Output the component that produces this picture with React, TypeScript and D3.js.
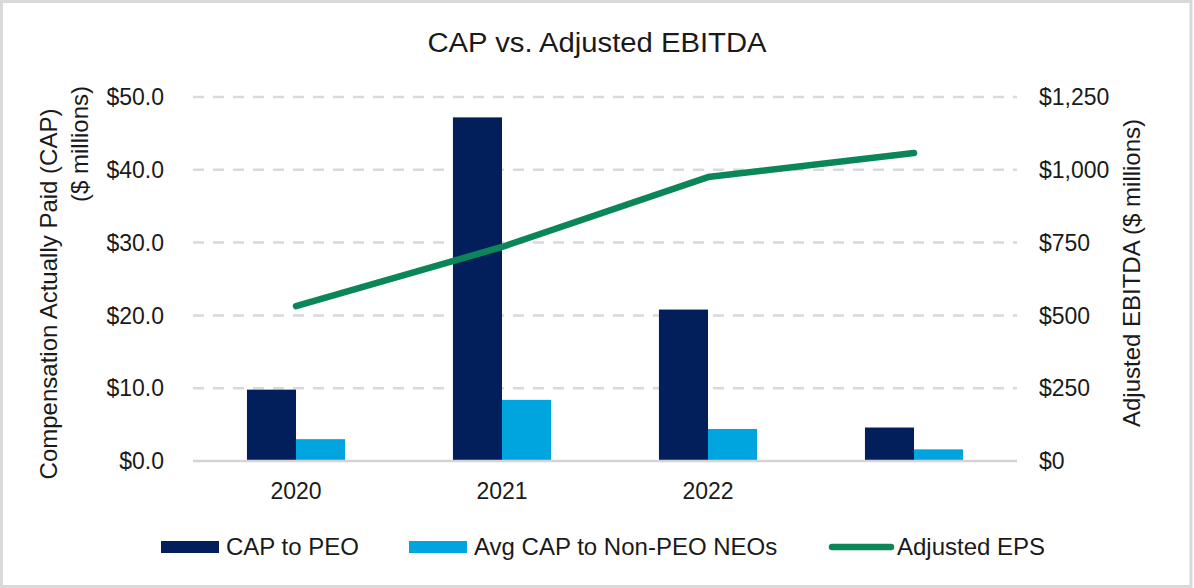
import * as d3 from 'd3';

const WIDTH = 1194;
const HEIGHT = 588;
const MARGIN = { top: 97, right: 177, bottom: 127, left: 193 };

// data
const years = ['2020', '2021', '2022', '2023'];
const yearLabels = ['2020', '2021', '2022', ''];
const capToPeo = [9.8, 47.2, 20.8, 4.6];
const avgCapNonPeo = [3.0, 8.4, 4.4, 1.6];
const adjustedEbitda = [532, 735, 975, 1058];
const leftTicks = [0, 10, 20, 30, 40, 50];
const rightTicks = [0, 250, 500, 750, 1000, 1250];

const NAVY = '#021e5b';
const SKY = '#00a5df';
const GREEN = '#0b8658';
const FONT = '"Liberation Sans", Arial, sans-serif';

export default function App() {
  const boundsWidth = WIDTH - MARGIN.left - MARGIN.right;
  const boundsHeight = HEIGHT - MARGIN.top - MARGIN.bottom;

  const xScale = d3.scaleBand().domain(years).range([0, boundsWidth]).padding(0);
  const seriesScale = d3
    .scaleBand()
    .domain(['peo', 'neo'])
    .range([0, xScale.bandwidth()])
    .paddingInner(0)
    .paddingOuter(1.1);
  const yLeft = d3.scaleLinear().domain([0, 50]).range([boundsHeight, 0]);
  const yRight = d3.scaleLinear().domain([0, 1250]).range([boundsHeight, 0]);

  const line = d3
    .line<number>()
    .x((_, i) => (xScale(years[i]) ?? 0) + xScale.bandwidth() / 2)
    .y((d) => yRight(d));

  const fmtLeft = (v: number) => '$' + v.toFixed(1);
  const fmtRight = (v: number) => '$' + d3.format(',')(v);

  const bars = years.map((yr, i) => {
    const x0 = xScale(yr) ?? 0;
    return (
      <g key={yr}>
        <rect
          x={x0 + (seriesScale('peo') ?? 0)}
          y={yLeft(capToPeo[i])}
          width={seriesScale.bandwidth()}
          height={boundsHeight - yLeft(capToPeo[i])}
          fill={NAVY}
        />
        <rect
          x={x0 + (seriesScale('neo') ?? 0)}
          y={yLeft(avgCapNonPeo[i])}
          width={seriesScale.bandwidth()}
          height={boundsHeight - yLeft(avgCapNonPeo[i])}
          fill={SKY}
        />
      </g>
    );
  });

  return (
    <svg
      width={WIDTH}
      height={HEIGHT}
      style={{ position: 'absolute', left: 0, top: 0, background: '#fff' }}
      fontFamily={FONT}
    >
      <rect x={1.5} y={1.5} width={1189.5} height={585} fill="#fff" stroke="#d9d9d9" strokeWidth={3} />

      <text x={597} y={52} textAnchor="middle" fontSize={27} fill="#1a1a1a" textLength={339} lengthAdjust="spacingAndGlyphs">
        CAP vs. Adjusted EBITDA
      </text>

      <g transform={`translate(${MARGIN.left},${MARGIN.top})`}>
        {/* gridlines */}
        {leftTicks.filter((t) => t > 0).map((t) => (
          <line
            key={t}
            x1={0}
            x2={boundsWidth}
            y1={yLeft(t)}
            y2={yLeft(t)}
            stroke="#d9d9d9"
            strokeWidth={2.5}
            strokeDasharray="11 9"
          />
        ))}

        {bars}

        <line x1={0} x2={boundsWidth} y1={boundsHeight} y2={boundsHeight} stroke="#d4d4d4" strokeWidth={2.5} />

        <path d={line(adjustedEbitda) ?? ''} fill="none" stroke={GREEN} strokeWidth={6.5} strokeLinecap="round" strokeLinejoin="round" />

        {/* left axis labels */}
        {leftTicks.map((t) => (
          <text key={t} x={-29} y={yLeft(t)} dy="0.36em" textAnchor="end" fontSize={23} fill="#1a1a1a">
            {fmtLeft(t)}
          </text>
        ))}

        {/* right axis labels */}
        {rightTicks.map((t) => (
          <text key={t} x={boundsWidth + 22} y={yRight(t)} dy="0.36em" textAnchor="start" fontSize={23} fill="#1a1a1a">
            {fmtRight(t)}
          </text>
        ))}

        {/* x labels */}
        {years.map((yr, i) => (
          <text
            key={yr}
            x={(xScale(yr) ?? 0) + xScale.bandwidth() / 2}
            y={boundsHeight + 38}
            textAnchor="middle"
            fontSize={23}
            fill="#1a1a1a"
          >
            {yearLabels[i]}
          </text>
        ))}
      </g>

      {/* axis titles */}
      <text transform="translate(57,294) rotate(-90)" textAnchor="middle" fontSize={24} fill="#1a1a1a">
        Compensation  Actually Paid (CAP)
      </text>
      <text transform="translate(88,86) rotate(-90)" textAnchor="end" fontSize={24} fill="#1a1a1a">
        ($ millions)
      </text>
      <text transform="translate(1140,273) rotate(-90)" textAnchor="middle" fontSize={24} fill="#1a1a1a">
        Adjusted EBITDA ($ millions)
      </text>

      {/* legend */}
      <g fontSize={24} fill="#1a1a1a">
        <rect x={161} y={541} width={58} height={12} fill={NAVY} />
        <text x={226} y={555}>CAP to PEO</text>
        <rect x={409} y={541} width={58} height={12} fill={SKY} />
        <text x={474} y={555}>Avg CAP to Non-PEO NEOs</text>
        <line x1={832} x2={891} y1={547} y2={547} stroke={GREEN} strokeWidth={6.5} strokeLinecap="round" />
        <text x={897} y={555}>Adjusted EPS</text>
      </g>
    </svg>
  );
}
